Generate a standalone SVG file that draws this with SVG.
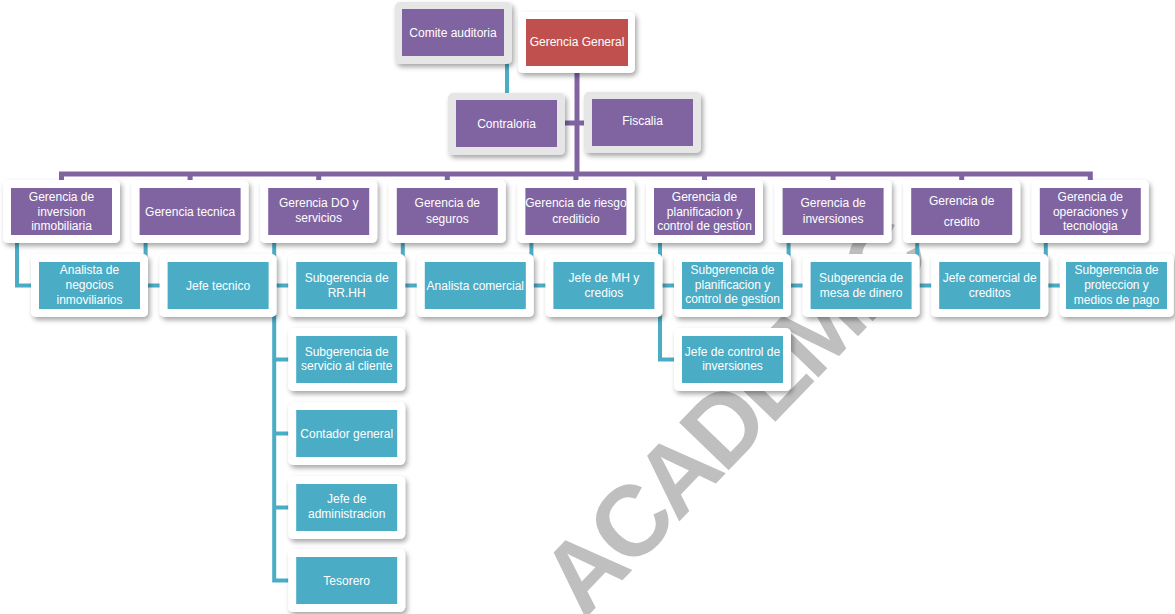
<svg xmlns="http://www.w3.org/2000/svg" width="1175" height="614" viewBox="0 0 1175 614">
<defs>
<filter id="sh" x="-20%" y="-20%" width="140%" height="150%">
<feDropShadow dx="2" dy="3" stdDeviation="2.5" flood-color="#000" flood-opacity="0.35"/>
</filter>
<style>
.fr{fill:#ffffff;filter:url(#sh)}
.gf{fill:#e6e6e6;filter:url(#sh)}
.p{fill:#8064a2}
.t{fill:#4bacc6}
.r{fill:#c0504d}
.pl{fill:none;stroke:#8064a2;stroke-width:5}
.tl{fill:none;stroke:#4bacc6;stroke-width:4}
text{font-family:"Liberation Sans",Arial,sans-serif;font-size:12px;fill:#ffffff;text-anchor:middle}
.wm{font-family:"Liberation Sans",Arial,sans-serif;font-size:100px;font-weight:bold;fill:#bfbfbf;text-anchor:start;letter-spacing:-5px}
</style>
</defs>
<rect width="1175" height="614" fill="#ffffff"/>
<text class="wm" transform="translate(584,620) rotate(-46)">ACADEMIC</text>
<g id="connectors">
<path class="pl" d="M577,70 V174"/>
<path class="pl" d="M61.5,183 V174 H1090.3 V183"/>
<path class="pl" d="M190.1,174 V183 M318.7,174 V183 M447.3,174 V183 M575.9,174 V183 M704.5,174 V183 M833.1,174 V183 M961.7,174 V183"/>
<path class="pl" d="M557,123 H592"/>
<path class="tl" d="M507,60 V96"/>
<path class="tl" d="M17,238 V285.5 H40"/>
<path class="tl" d="M145.6,238 V285.5 H168"/>
<path class="tl" d="M274.2,238 V580.5 H297 M274.2,285.5 H297 M274.2,359.5 H297 M274.2,433.5 H297 M274.2,507.5 H297"/>
<path class="tl" d="M402.8,238 V285.5 H425"/>
<path class="tl" d="M531.4,238 V285.5 H554"/>
<path class="tl" d="M660,238 V359.5 H683 M660,285.5 H683"/>
<path class="tl" d="M788.6,238 V285.5 H811"/>
<path class="tl" d="M917.2,238 V285.5 H940"/>
<path class="tl" d="M1045.8,238 V285.5 H1068"/>
</g>
<g id="comite"><rect class="gf" x="395" y="2" width="117" height="62" rx="5"/><rect class="p" x="402" y="9" width="102" height="47"/><text x="453" y="37">Comite auditoria</text></g>
<g id="gerencia-general"><rect class="fr" x="518" y="12" width="117" height="61" rx="5"/><rect class="r" x="526" y="19" width="102" height="47"/><text x="577" y="46">Gerencia General</text></g>
<g id="contraloria"><rect class="gf" x="448" y="93" width="117" height="62" rx="5"/><rect class="p" x="456" y="100" width="101" height="47"/><text x="506.5" y="128">Contraloria</text></g>
<g id="fiscalia"><rect class="gf" x="584" y="92" width="117" height="61" rx="5"/><rect class="p" x="592" y="99" width="101" height="47"/><text x="642.5" y="125">Fiscalia</text></g>

<g id="g-inversion-inmobiliaria"><rect class="fr" x="3" y="180" width="117" height="63" rx="5"/><rect class="p" x="11" y="188" width="101" height="47"/><text x="61.5" y="201">Gerencia de</text><text x="61.5" y="215.5">inversion</text><text x="61.5" y="230">inmobiliaria</text></g>
<g id="g-tecnica"><rect class="fr" x="131.6" y="180" width="117" height="63" rx="5"/><rect class="p" x="139.6" y="188" width="101" height="47"/><text x="190.1" y="216">Gerencia tecnica</text></g>
<g id="g-do"><rect class="fr" x="260.2" y="180" width="117" height="63" rx="5"/><rect class="p" x="268.2" y="188" width="101" height="47"/><text x="318.7" y="207">Gerencia DO y</text><text x="318.7" y="222">servicios</text></g>
<g id="g-seguros"><rect class="fr" x="388.8" y="180" width="117" height="63" rx="5"/><rect class="p" x="396.8" y="188" width="101" height="47"/><text x="447.3" y="207">Gerencia de</text><text x="447.3" y="223">seguros</text></g>
<g id="g-riesgo"><rect class="fr" x="517.4" y="180" width="117" height="63" rx="5"/><rect class="p" x="525.4" y="188" width="101" height="47"/><text x="575.9" y="207">Gerencia de riesgo</text><text x="575.9" y="223">crediticio</text></g>
<g id="g-planificacion"><rect class="fr" x="646" y="180" width="117" height="63" rx="5"/><rect class="p" x="654" y="188" width="101" height="47"/><text x="704.5" y="201">Gerencia de</text><text x="704.5" y="215.5">planificacion y</text><text x="704.5" y="230">control de gestion</text></g>
<g id="g-inversiones"><rect class="fr" x="774.6" y="180" width="117" height="63" rx="5"/><rect class="p" x="782.6" y="188" width="101" height="47"/><text x="833.1" y="207">Gerencia de</text><text x="833.1" y="223">inversiones</text></g>
<g id="g-credito"><rect class="fr" x="903.2" y="180" width="117" height="63" rx="5"/><rect class="p" x="911.2" y="188" width="101" height="47"/><text x="961.7" y="205">Gerencia de</text><text x="961.7" y="226">credito</text></g>
<g id="g-operaciones"><rect class="fr" x="1031.8" y="180" width="117" height="63" rx="5"/><rect class="p" x="1039.8" y="188" width="101" height="47"/><text x="1090.3" y="201">Gerencia de</text><text x="1090.3" y="215.5">operaciones y</text><text x="1090.3" y="230">tecnologia</text></g>

<g id="analista-negocios"><rect class="fr" x="31" y="254" width="117" height="63" rx="5"/><rect class="t" x="39" y="262" width="101" height="47"/><text x="89.5" y="274">Analista de</text><text x="89.5" y="289">negocios</text><text x="89.5" y="304">inmoviliarios</text></g>
<g id="jefe-tecnico"><rect class="fr" x="159.6" y="254" width="117" height="63" rx="5"/><rect class="t" x="167.6" y="262" width="101" height="47"/><text x="218.1" y="289.5">Jefe tecnico</text></g>
<g id="sub-rrhh"><rect class="fr" x="288.2" y="254" width="117" height="63" rx="5"/><rect class="t" x="296.2" y="262" width="101" height="47"/><text x="346.7" y="282">Subgerencia de</text><text x="346.7" y="297">RR.HH</text></g>
<g id="sub-servicio"><rect class="fr" x="288.2" y="328" width="117" height="63" rx="5"/><rect class="t" x="296.2" y="336" width="101" height="47"/><text x="346.7" y="356">Subgerencia de</text><text x="346.7" y="370">servicio al cliente</text></g>
<g id="contador"><rect class="fr" x="288.2" y="402" width="117" height="63" rx="5"/><rect class="t" x="296.2" y="410" width="101" height="47"/><text x="346.7" y="437.5">Contador general</text></g>
<g id="jefe-admin"><rect class="fr" x="288.2" y="476" width="117" height="63" rx="5"/><rect class="t" x="296.2" y="484" width="101" height="47"/><text x="346.7" y="503">Jefe de</text><text x="346.7" y="517.5">administracion</text></g>
<g id="tesorero"><rect class="fr" x="288.2" y="549" width="117" height="63" rx="5"/><rect class="t" x="296.2" y="557" width="101" height="47"/><text x="346.7" y="584.5">Tesorero</text></g>
<g id="analista-comercial"><rect class="fr" x="416.8" y="254" width="117" height="63" rx="5"/><rect class="t" x="424.8" y="262" width="101" height="47"/><text x="475.3" y="289.5">Analista comercial</text></g>
<g id="jefe-mh"><rect class="fr" x="545.4" y="254" width="117" height="63" rx="5"/><rect class="t" x="553.4" y="262" width="101" height="47"/><text x="603.9" y="282">Jefe de MH y</text><text x="603.9" y="297">credios</text></g>
<g id="sub-planificacion"><rect class="fr" x="674" y="254" width="117" height="63" rx="5"/><rect class="t" x="682" y="262" width="101" height="47"/><text x="732.5" y="274">Subgerencia de</text><text x="732.5" y="288.5">planificacion y</text><text x="732.5" y="303">control de gestion</text></g>
<g id="jefe-control"><rect class="fr" x="674" y="328" width="117" height="63" rx="5"/><rect class="t" x="682" y="336" width="101" height="47"/><text x="732.5" y="356">Jefe de control de</text><text x="732.5" y="370">inversiones</text></g>
<g id="sub-mesa"><rect class="fr" x="802.6" y="254" width="117" height="63" rx="5"/><rect class="t" x="810.6" y="262" width="101" height="47"/><text x="861.1" y="282">Subgerencia de</text><text x="861.1" y="297">mesa de dinero</text></g>
<g id="jefe-comercial"><rect class="fr" x="931.2" y="254" width="117" height="63" rx="5"/><rect class="t" x="939.2" y="262" width="101" height="47"/><text x="989.7" y="282">Jefe comercial de</text><text x="989.7" y="297">creditos</text></g>
<g id="sub-proteccion"><rect class="fr" x="1059.8" y="254" width="114" height="63" rx="5"/><rect class="t" x="1066" y="262" width="101" height="47"/><text x="1116.5" y="274">Subgerencia de</text><text x="1116.5" y="289">proteccion y</text><text x="1116.5" y="304">medios de pago</text></g>
</svg>
